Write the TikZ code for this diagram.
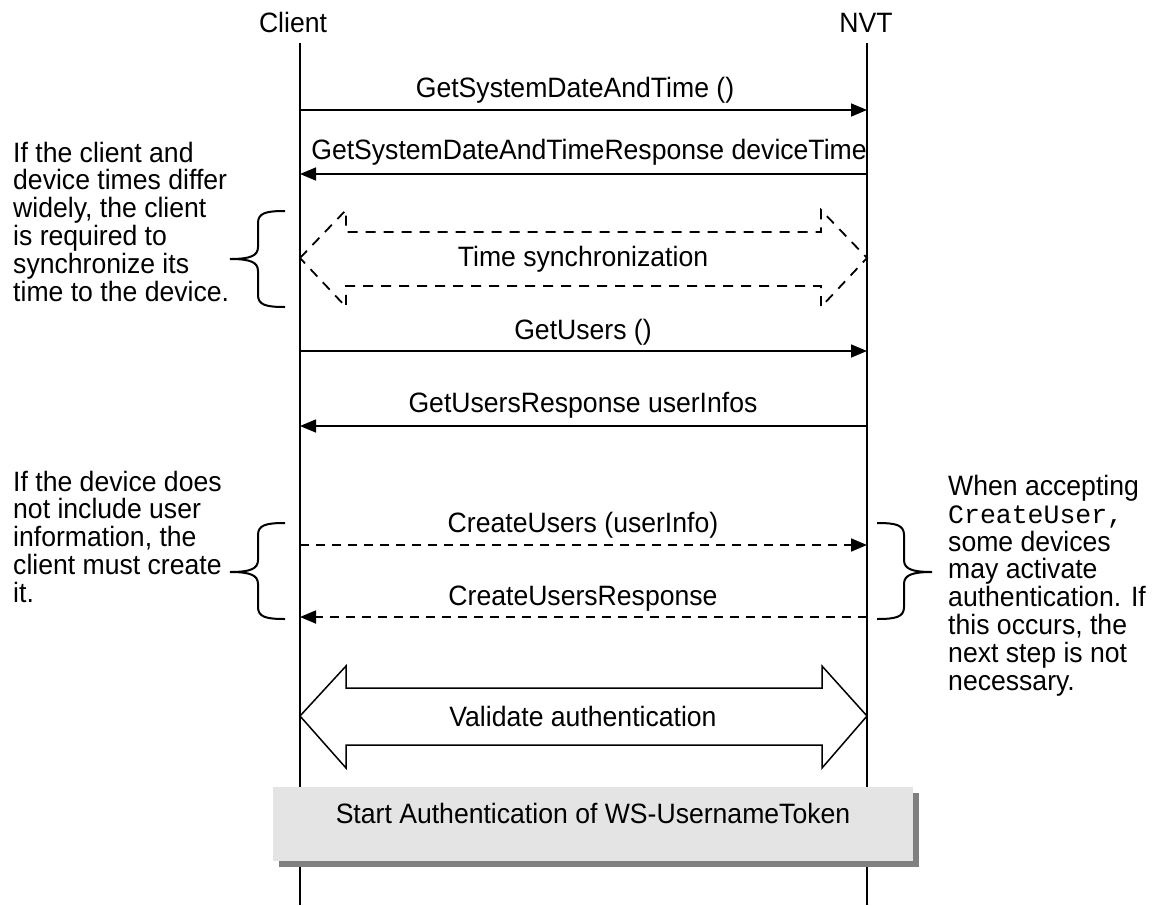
\documentclass[tikz,border=0pt]{standalone}
\usepackage{fontspec}
\setmainfont{Liberation Sans}[FakeStretch=0.95]
\setmonofont{Liberation Mono}
\usetikzlibrary{arrows.meta}
\definecolor{boxfill}{HTML}{E3E4E3}
\definecolor{shadowgray}{HTML}{808080}
\tikzset{
  txt/.style={font=\fontsize{28}{27.8}\selectfont, inner sep=0pt},
  lbl/.style={txt, anchor=base},
  note/.style={txt, align=left, anchor=north west},
  life/.style={line width=2pt},
  msg/.style={line width=1.6pt, -{Triangle[length=16pt,width=13pt]}},
  dmsg/.style={msg, line width=1.8pt, dash pattern=on 9pt off 7pt},
  bigarrow/.style={line width=1.5pt, line join=miter},
  brace/.style={line width=2pt},
}
\begin{document}
\begin{tikzpicture}[x=1pt,y=-1pt]
\useasboundingbox (0,0) rectangle (1153,905);
% lifeline heads
\node[lbl] (client) at (293,32) {Client};
\node[lbl] (nvt) at (866,32) {NVT};
\coordinate (cT) at (300,43);
\coordinate (cB) at (300,905);
\coordinate (nT) at (867,43);
\coordinate (nB) at (867,905);
\draw[life] (cT) -- (cB);
\draw[life] (nT) -- (nB);
% message 1
\coordinate (c1) at (300,110); \coordinate (n1) at (867,110);
\draw[msg] (c1) -- (n1);
\node[lbl] (m1) at (575,97) {GetSystemDateAndTime ()};
% message 2
\coordinate (c2) at (300,174); \coordinate (n2) at (867,174);
\draw[msg] (n2) -- (c2);
\node[lbl] (m2) at (589,159) {GetSystemDateAndTimeResponse deviceTime};
% time synchronization
\draw[bigarrow, line width=1.8pt, dash pattern=on 10pt off 8pt]
  (300,258) -- (346,210) -- (346,232) -- (821,232) -- (821,210) -- (867,258)
  -- (821,307) -- (821,286) -- (346,286) -- (346,307) -- cycle;
\node[lbl] (ts) at (583,266) {Time synchronization};
% message 3
\coordinate (c3) at (300,351); \coordinate (n3) at (867,351);
\draw[msg] (c3) -- (n3);
\node[lbl] (m3) at (583,339) {GetUsers ()};
% message 4
\coordinate (c4) at (300,426); \coordinate (n4) at (867,426);
\draw[msg] (n4) -- (c4);
\node[lbl] (m4) at (583,412) {GetUsersResponse userInfos};
% message 5
\coordinate (c5) at (300,545); \coordinate (n5) at (867,545);
\draw[dmsg] (c5) -- (n5);
\node[lbl] (m5) at (583,532) {CreateUsers (userInfo)};
% message 6
\coordinate (c6) at (300,617); \coordinate (n6) at (867,617);
\draw[dmsg] (n6) -- (c6);
\node[lbl] (m6) at (583,605) {CreateUsersResponse};
% validate authentication
\draw[bigarrow]
  (300,716) -- (346,666) -- (346,688) -- (822,688) -- (822,666) -- (867,716)
  -- (822,768) -- (822,745) -- (346,745) -- (346,768) -- cycle;
\node[lbl] (va) at (583,726) {Validate authentication};
% start box
\fill[shadowgray] (279,793) rectangle (919,867);
\fill[boxfill] (273,787) rectangle (913,861);
\node[lbl] (start) at (593,823) {Start Authentication of WS-UsernameToken};
% left notes
\node[note] (note1) at (13,141.7) {If the client and\\device times differ\\widely, the client\\is required to\\synchronize its\\time to the device.};
\draw[brace] (285,211) .. controls (266,211) and (258,213) .. (258,223) -- (258,247)
  .. controls (258,256) and (250,259) .. (230,259)
  .. controls (250,259) and (258,262) .. (258,271) -- (258,295)
  .. controls (258,305) and (266,307) .. (285,307);
\node[note] (note2) at (13,470.7) {If the device does\\not include user\\information, the\\client must create\\it.};
\draw[brace] (285,523) .. controls (266,523) and (258,525) .. (258,535) -- (258,560)
  .. controls (258,569) and (250,572) .. (230,572)
  .. controls (250,572) and (258,575) .. (258,584) -- (258,607)
  .. controls (258,617) and (266,619) .. (285,619);
% right note
\draw[brace] (877,523) .. controls (896,523) and (904,525) .. (904,535) -- (904,560)
  .. controls (904,569) and (912,572) .. (932,572)
  .. controls (912,572) and (904,575) .. (904,584) -- (904,607)
  .. controls (904,617) and (896,619) .. (877,619);
\node[note] (note3) at (948,475) {When accepting\\{\ttfamily\fontsize{26.5}{27.8}\selectfont CreateUser,}\\some devices\\may activate\\authentication. If\\this occurs, the\\next step is not\\necessary.};
\end{tikzpicture}
\end{document}
